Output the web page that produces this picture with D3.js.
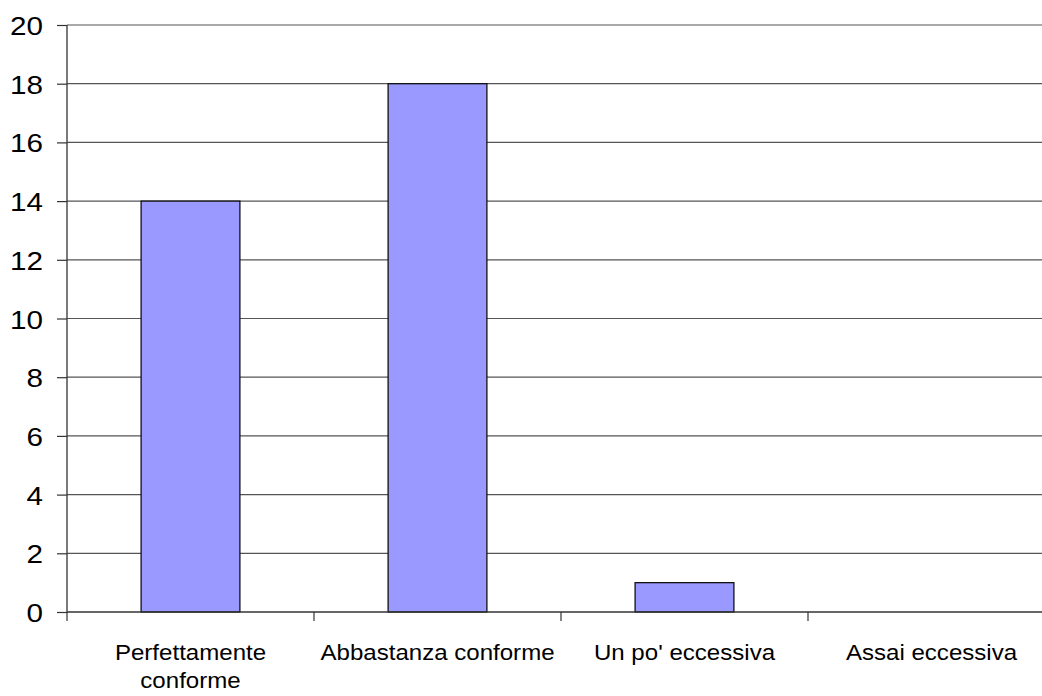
<!DOCTYPE html>
<html>
<head>
<meta charset="utf-8">
<script src="https://cdn.jsdelivr.net/npm/d3@7"></script>
<style>
  html, body { margin: 0; padding: 0; background: #fff; }
  svg { display: block; font-family: "Liberation Sans", Arial, sans-serif; }
</style>
</head>
<body>
<svg id="chart" width="1042" height="696"></svg>
<script>
// Risposte per categoria
const categories = [["Perfettamente", "conforme"], ["Abbastanza conforme"], ["Un po' eccessiva"], ["Assai eccessiva"]];
const values = [14, 18, 1, 0];
const yTicks = [0, 2, 4, 6, 8, 10, 12, 14, 16, 18, 20];

const svg = d3.select("#chart");
const plotLeft = 67, plotRight = 1055, plotTop = 25, plotBottom = 612;
const stretch = 1.12; // labels are set slightly wide

const keys = categories.map(c => c.join(" "));
const x = d3.scaleBand().domain(keys).range([plotLeft, plotRight]).padding(0);
const y = d3.scaleLinear().domain([0, 20]).range([plotBottom, plotTop]);

// horizontal gridlines
svg.append("g")
  .selectAll("line")
  .data(yTicks.filter(t => t > 0))
  .join("line")
  .attr("x1", plotLeft).attr("x2", plotRight)
  .attr("y1", d => y(d)).attr("y2", d => y(d))
  .attr("stroke", "#555").attr("stroke-width", 1.2);

// bars
const bw = x.bandwidth();
svg.append("g")
  .selectAll("rect")
  .data(values)
  .join("rect")
  .attr("x", (d, i) => x(keys[i]) + bw * 0.3)
  .attr("width", bw * 0.4)
  .attr("y", d => y(d))
  .attr("height", d => y(0) - y(d))
  .attr("fill", "#9999ff")
  .attr("stroke", "#111")
  .attr("stroke-width", 1.3)
  .attr("display", d => d > 0 ? null : "none");

// y axis
const yAxis = d3.axisLeft(y).tickValues(yTicks).tickSize(10).tickFormat(d3.format("d"));
const gy = svg.append("g").attr("transform", `translate(${plotLeft},0)`).call(yAxis);
gy.select(".domain").attr("stroke", "#333").attr("stroke-width", 1.3).attr("d", `M0,${plotTop}V${plotBottom}`);
gy.selectAll(".tick line").attr("stroke", "#333").attr("stroke-width", 1.2);
gy.selectAll(".tick text")
  .attr("x", null).attr("dy", null)
  .attr("transform", `translate(-24,9.5) scale(${stretch},1)`)
  .attr("font-size", 26.5).attr("fill", "#000")
  .attr("font-family", "Liberation Sans, Arial, sans-serif");

// x axis
const gx = svg.append("g").attr("transform", `translate(0,${plotBottom})`);
gx.append("line").attr("x1", plotLeft).attr("x2", plotRight).attr("y1", 0).attr("y2", 0)
  .attr("stroke", "#333").attr("stroke-width", 1.3);
gx.selectAll("line.tk")
  .data(keys.map(k => x(k)))
  .join("line").attr("class", "tk")
  .attr("x1", d => d).attr("x2", d => d).attr("y1", 0).attr("y2", 9)
  .attr("stroke", "#333").attr("stroke-width", 1.2);

const lbl = gx.selectAll("text.lbl")
  .data(categories)
  .join("text").attr("class", "lbl")
  .attr("transform", (d, i) => `translate(${x(keys[i]) + bw / 2},48) scale(${stretch},1)`)
  .attr("text-anchor", "middle")
  .attr("font-size", 21.5)
  .attr("fill", "#000");
lbl.selectAll("tspan")
  .data(d => d)
  .join("tspan")
  .attr("x", 0)
  .attr("dy", (d, i) => i === 0 ? 0 : 28)
  .text(d => d);
</script>
</body>
</html>
